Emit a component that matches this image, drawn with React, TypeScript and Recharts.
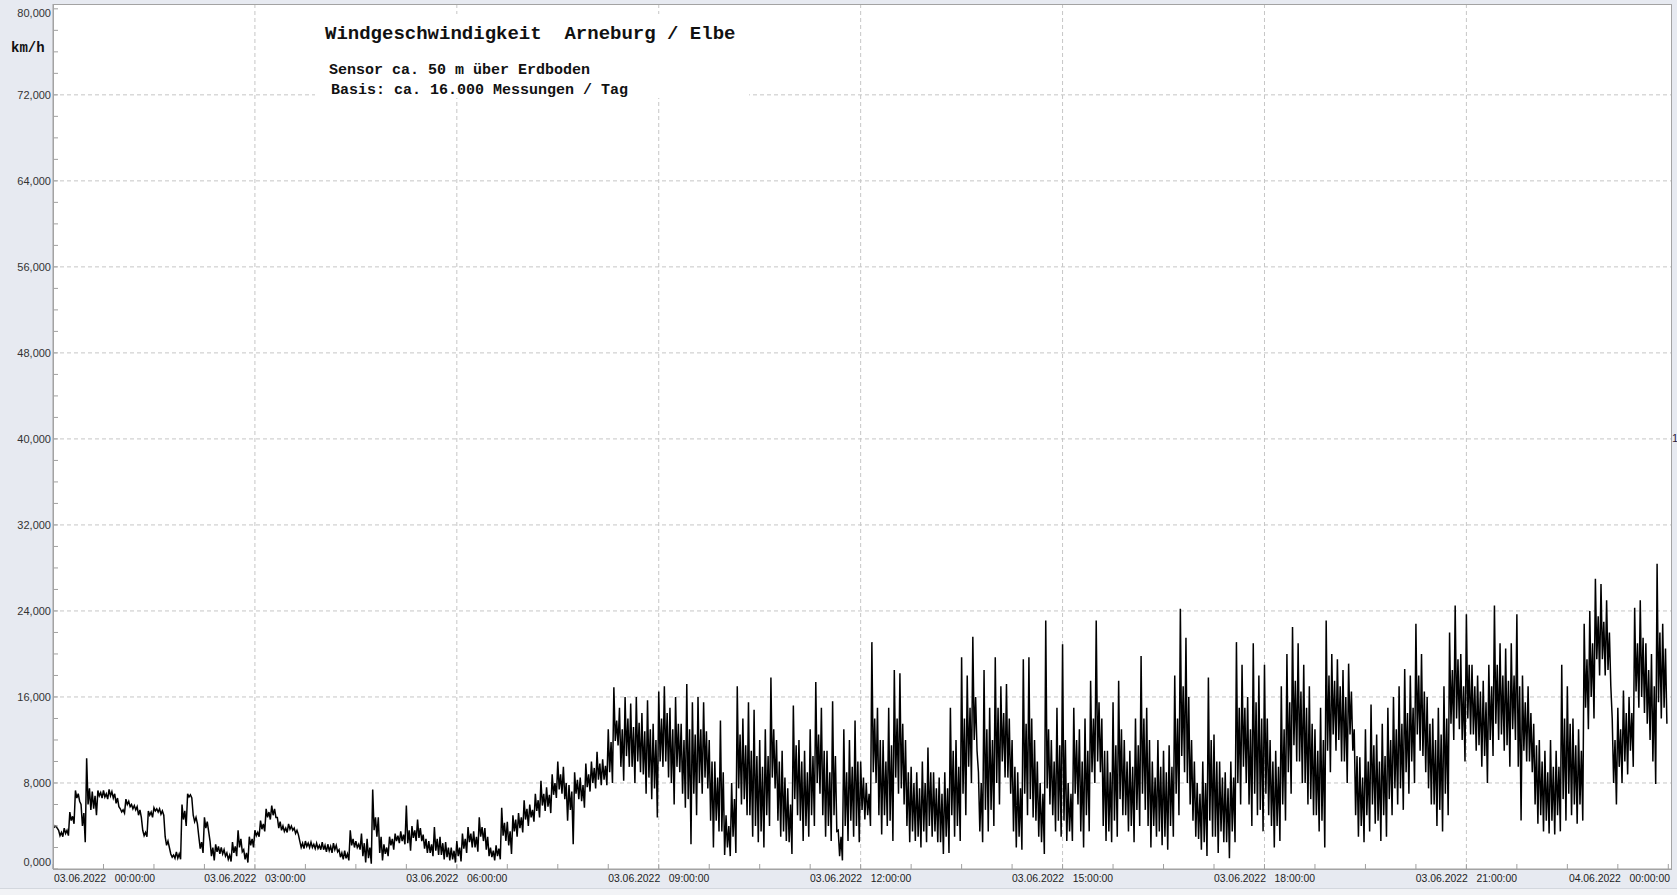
import React from 'react'
import { LineChart, Line, XAxis, YAxis, CartesianGrid } from 'recharts'

// wind speed in km/h, one row per hour, one value per 5-minute window
// peaks = highest reading, troughs = lowest reading,
// coreTop / coreBottom = edges of the dense bulk of readings
const peaks: number[] = [
  4.2, 3.6, 3.8, 5.3, 7.3, 6.0, 10.3, 7.2, 7.3, 7.3, 7.4, 7.0,
  5.6, 6.5, 6.0, 5.8, 3.6, 5.4, 5.7, 5.6, 3.0, 1.4, 1.6, 6.0,
  7.0, 5.0, 3.0, 4.8, 2.6, 2.3, 2.0, 1.5, 2.5, 3.6, 1.8, 3.0,
  3.6, 4.5, 5.6, 5.9, 4.8, 4.0, 4.2, 3.8, 2.6, 2.6, 2.5, 2.4,
  2.5, 2.3, 2.4, 1.8, 1.7, 3.6, 2.6, 3.3, 2.8, 7.4, 4.8, 2.3,
  3.0, 3.3, 3.5, 5.9, 4.0, 4.6, 3.2, 2.6, 3.9, 3.0, 2.5, 2.0,
  2.6, 3.3, 3.9, 3.5, 4.8, 3.8, 2.0, 2.2, 5.7, 4.4, 5.0, 5.2,
  6.4, 6.0, 7.0, 8.2, 7.6, 8.8, 10.0, 9.5, 7.8, 9.0, 8.5, 9.8,
  10.0, 10.9, 10.2, 13.0, 16.9, 15.0, 16.0, 15.4, 16.0, 14.5, 15.7, 13.5,
  16.5, 17.0, 15.0, 16.0, 13.5, 17.2, 15.5, 16.0, 15.5, 12.0, 10.0, 13.8,
  5.0, 8.0, 17.0, 14.0, 15.5, 14.8, 12.0, 13.0, 17.8, 12.0, 11.0, 7.5,
  15.2, 12.0, 11.0, 13.0, 17.4, 15.0, 11.0, 15.6, 3.6, 13.0, 12.0, 13.8,
  10.0, 8.0, 21.1, 15.0, 12.0, 15.0, 18.5, 18.2, 12.0, 9.5, 9.0, 10.0,
  11.3, 9.0, 8.5, 9.0, 15.0, 12.0, 19.7, 18.0, 21.6, 9.0, 18.5, 15.0,
  19.7, 17.0, 17.2, 12.0, 9.0, 19.5, 19.7, 12.0, 8.0, 23.1, 12.0, 15.0,
  20.9, 8.0, 15.0, 13.0, 14.0, 17.5, 23.1, 14.0, 11.0, 15.5, 17.5, 12.0,
  11.0, 14.0, 19.8, 15.0, 10.0, 12.0, 11.0, 11.5, 18.0, 24.2, 21.5, 12.0,
  8.0, 10.0, 17.8, 12.5, 10.0, 9.0, 10.0, 21.1, 19.0, 16.0, 21.0, 18.0,
  19.0, 12.0, 11.0, 17.0, 20.0, 22.5, 21.0, 19.0, 17.0, 13.0, 15.0, 23.1,
  20.0, 19.5, 18.5, 19.1, 13.0, 10.4, 13.0, 15.3, 12.5, 13.5, 15.0, 16.0,
  17.0, 18.6, 18.0, 22.8, 20.0, 16.0, 14.0, 15.0, 17.0, 22.0, 24.5, 20.0,
  23.7, 19.0, 18.0, 17.5, 19.0, 24.5, 21.0, 20.5, 21.0, 23.7, 18.0, 17.0,
  13.5, 12.0, 11.0, 12.0, 11.0, 19.0, 17.0, 14.0, 13.0, 22.8, 24.0, 27.0,
  26.5, 25.0, 14.0, 15.0, 16.6, 16.0, 24.3, 25.0, 21.0, 20.0, 28.4, 22.8,
]

const troughs: number[] = [
  3.8, 3.0, 3.1, 4.2, 6.3, 2.5, 5.5, 5.0, 6.6, 6.5, 6.6, 5.8,
  5.2, 5.8, 5.5, 4.8, 3.0, 4.8, 5.3, 5.0, 2.0, 1.0, 0.9, 4.0,
  6.6, 4.2, 1.5, 3.5, 0.8, 1.4, 1.2, 0.7, 1.2, 1.6, 0.6, 2.0,
  3.0, 3.5, 4.6, 4.8, 3.6, 3.4, 3.6, 3.2, 1.9, 2.0, 1.9, 1.8,
  1.6, 1.5, 1.6, 0.9, 0.8, 2.0, 1.8, 0.6, 0.5, 3.0, 0.8, 1.2,
  1.8, 2.4, 2.3, 1.7, 2.6, 2.6, 1.5, 1.2, 1.3, 0.9, 0.8, 0.6,
  0.7, 1.5, 2.0, 1.6, 2.6, 1.2, 0.8, 0.9, 2.6, 1.4, 3.0, 3.4,
  4.0, 4.4, 4.8, 5.4, 5.2, 6.6, 7.0, 4.5, 2.3, 6.5, 5.7, 7.2,
  7.5, 7.8, 7.8, 8.0, 11.5, 8.2, 9.5, 8.0, 9.0, 7.0, 6.5, 4.8,
  9.5, 8.5, 6.0, 9.0, 5.7, 2.3, 5.0, 7.0, 7.5, 2.0, 3.5, 1.3,
  1.2, 1.5, 6.0, 5.0, 3.0, 2.5, 2.0, 4.0, 7.5, 3.0, 2.6, 1.4,
  5.0, 2.6, 3.0, 4.0, 7.0, 3.0, 2.6, 3.5, 0.8, 2.6, 3.0, 2.5,
  4.6, 4.0, 8.0, 3.2, 4.0, 2.6, 7.0, 6.0, 2.5, 2.6, 2.0, 2.5,
  3.0, 2.5, 1.4, 1.5, 3.0, 2.6, 5.0, 8.0, 11.0, 2.5, 3.5, 4.0,
  6.0, 8.5, 7.0, 2.0, 1.8, 5.0, 4.8, 3.0, 1.4, 6.0, 3.5, 3.0,
  2.6, 2.6, 6.0, 2.0, 3.5, 8.0, 9.0, 2.6, 2.5, 3.0, 5.0, 3.5,
  2.5, 4.0, 5.5, 2.0, 3.0, 2.2, 1.8, 3.0, 5.0, 9.0, 6.0, 3.0,
  1.8, 1.2, 3.0, 1.5, 2.5, 1.0, 2.5, 6.0, 8.0, 4.0, 5.0, 3.5,
  5.0, 2.0, 2.6, 4.5, 7.0, 10.0, 8.0, 6.0, 5.0, 3.5, 2.0, 9.0,
  11.0, 10.0, 8.0, 11.0, 3.0, 2.5, 3.5, 4.2, 2.6, 3.0, 5.0, 6.0,
  5.5, 7.0, 8.0, 11.0, 9.0, 6.0, 4.0, 3.5, 5.0, 12.0, 13.0, 10.0,
  12.5, 11.0, 9.5, 8.0, 10.5, 12.0, 11.0, 9.5, 12.0, 4.5, 10.0, 9.0,
  4.2, 3.5, 3.3, 3.2, 3.5, 4.5, 5.0, 4.2, 4.5, 13.0, 14.0, 18.0,
  18.0, 17.0, 6.0, 8.0, 8.8, 9.5, 15.0, 14.5, 12.0, 7.9, 14.0, 13.5,
]

const coreTop: number[] = [
  4.0, 3.4, 3.6, 4.9, 7.0, 5.2, 7.5, 6.8, 7.1, 7.0, 7.2, 6.6,
  5.5, 6.3, 5.9, 5.5, 3.4, 5.3, 5.6, 5.4, 2.6, 1.3, 1.4, 5.4,
  6.9, 4.8, 2.5, 4.4, 2.0, 2.1, 1.8, 1.3, 2.1, 2.8, 1.5, 2.8,
  3.4, 4.2, 5.3, 5.6, 4.4, 3.8, 4.0, 3.6, 2.4, 2.4, 2.3, 2.2,
  2.2, 2.1, 2.2, 1.5, 1.4, 2.8, 2.3, 2.4, 2.0, 4.8, 3.0, 2.0,
  2.8, 3.1, 3.2, 3.6, 3.6, 3.8, 2.8, 2.3, 2.8, 2.4, 2.0, 1.7,
  2.0, 2.8, 3.3, 3.0, 3.9, 3.0, 1.7, 1.9, 4.3, 3.5, 4.6, 4.8,
  5.6, 5.5, 6.4, 7.0, 6.9, 8.0, 8.8, 8.0, 7.2, 8.3, 7.8, 8.8,
  9.4, 9.8, 9.6, 11.8, 13.8, 13.0, 14.0, 13.2, 13.6, 12.8, 13.0, 12.0,
  14.0, 14.5, 13.0, 13.5, 12.0, 13.0, 12.5, 13.0, 12.8, 10.0, 8.5, 9.0,
  4.0, 6.5, 12.5, 11.5, 11.0, 10.5, 9.5, 10.5, 13.0, 10.0, 8.5, 6.0,
  11.5, 10.0, 9.0, 10.5, 12.5, 11.0, 9.0, 10.5, 3.0, 9.0, 9.5, 10.0,
  8.5, 7.0, 14.0, 12.0, 10.0, 11.5, 14.0, 13.5, 9.0, 8.0, 7.5, 8.0,
  9.0, 7.5, 7.0, 7.5, 11.0, 9.5, 14.0, 15.0, 16.0, 8.0, 13.0, 12.0,
  15.0, 14.5, 14.0, 9.5, 7.5, 13.5, 14.0, 10.0, 7.0, 13.0, 10.0, 11.5,
  12.0, 7.0, 12.0, 10.0, 11.0, 14.0, 15.5, 11.0, 9.0, 11.5, 13.0, 10.0,
  9.5, 11.5, 14.0, 12.0, 8.5, 9.5, 9.0, 9.5, 14.0, 17.0, 16.0, 10.0,
  7.0, 8.0, 12.0, 10.0, 8.5, 7.5, 8.5, 15.0, 15.0, 13.0, 15.5, 14.0,
  14.0, 10.0, 9.5, 13.0, 15.5, 17.5, 16.5, 15.0, 13.5, 11.0, 12.0, 18.0,
  17.5, 17.0, 16.0, 16.5, 10.5, 8.5, 10.0, 11.5, 10.0, 10.5, 12.0, 13.0,
  13.5, 14.5, 15.0, 18.0, 16.5, 13.5, 12.0, 12.5, 14.0, 18.5, 19.5, 17.0,
  19.0, 17.0, 16.5, 15.5, 17.0, 19.0, 18.0, 17.5, 18.0, 17.0, 15.5, 14.5,
  11.5, 10.0, 9.0, 9.5, 9.5, 14.0, 13.5, 11.5, 11.0, 19.5, 21.0, 23.5,
  23.0, 22.0, 12.0, 13.0, 14.5, 14.5, 21.0, 21.5, 18.5, 17.0, 22.0, 20.5,
]

const coreBottom: number[] = [
  3.9, 3.1, 3.3, 4.5, 6.6, 4.0, 6.0, 5.6, 6.8, 6.7, 6.8, 6.1,
  5.3, 6.0, 5.6, 5.0, 3.1, 5.0, 5.4, 5.1, 2.2, 1.1, 1.0, 4.6,
  6.7, 4.4, 1.9, 3.8, 1.2, 1.6, 1.4, 0.9, 1.5, 2.0, 0.9, 2.2,
  3.1, 3.7, 4.8, 5.0, 3.8, 3.5, 3.7, 3.3, 2.0, 2.1, 2.0, 1.9,
  1.8, 1.7, 1.8, 1.1, 1.0, 2.2, 2.0, 1.2, 1.0, 3.6, 1.5, 1.4,
  2.2, 2.6, 2.6, 2.4, 2.9, 2.9, 1.9, 1.5, 1.7, 1.3, 1.1, 0.9,
  1.2, 1.9, 2.5, 2.0, 3.0, 1.8, 1.1, 1.2, 3.1, 2.2, 3.5, 3.8,
  4.6, 4.8, 5.4, 5.9, 5.8, 6.9, 7.4, 6.5, 5.5, 7.0, 6.3, 7.6,
  8.0, 8.3, 8.3, 9.0, 11.9, 9.5, 10.5, 9.5, 10.0, 8.8, 8.5, 7.5,
  10.0, 10.0, 8.0, 9.5, 7.0, 6.5, 7.0, 8.0, 8.5, 4.5, 4.5, 3.5,
  2.0, 3.0, 7.5, 6.5, 5.0, 4.0, 3.5, 5.0, 8.5, 4.5, 3.5, 2.5,
  6.5, 4.5, 4.0, 5.0, 8.0, 5.0, 4.0, 5.0, 1.2, 4.0, 4.5, 4.0,
  5.5, 5.0, 9.0, 5.0, 5.0, 4.5, 8.5, 7.5, 4.0, 3.5, 3.0, 3.5,
  4.0, 3.5, 2.5, 3.0, 5.0, 4.0, 7.0, 9.5, 12.0, 3.5, 5.5, 5.5,
  8.0, 10.0, 8.5, 3.5, 3.0, 7.0, 6.5, 4.5, 2.5, 7.5, 5.0, 4.5,
  4.5, 3.5, 7.0, 3.5, 5.0, 9.0, 10.0, 4.0, 3.5, 4.5, 6.5, 5.0,
  4.0, 5.5, 7.0, 4.0, 4.0, 3.5, 3.0, 4.0, 7.0, 10.5, 8.0, 4.5,
  2.8, 2.5, 4.5, 3.0, 3.5, 2.5, 3.5, 8.0, 9.5, 6.0, 7.0, 5.5,
  7.0, 4.0, 4.0, 6.0, 9.0, 11.5, 10.0, 8.0, 6.5, 5.0, 4.5, 11.0,
  12.5, 12.0, 10.0, 12.5, 5.0, 4.0, 5.0, 6.0, 4.5, 5.0, 6.5, 7.5,
  7.5, 9.0, 10.0, 12.5, 10.5, 7.5, 6.0, 5.5, 7.0, 13.5, 14.0, 12.0,
  14.0, 12.5, 11.5, 10.5, 12.0, 13.5, 12.5, 11.5, 13.0, 9.5, 11.0, 10.0,
  6.0, 5.0, 4.5, 4.5, 5.0, 6.5, 7.0, 6.0, 6.0, 15.0, 16.0, 19.5,
  19.5, 18.5, 8.0, 9.5, 10.0, 11.0, 16.5, 16.0, 13.5, 10.0, 15.5, 15.0,
]

const yLabelValues = [0, 8, 16, 24, 32, 40, 48, 56, 64, 72, 80]
const yGridValues = [8, 16, 24, 32, 40, 48, 56, 64, 72]
const xLabelHours = [0, 3, 6, 9, 12, 15, 18, 21, 24]
const xLabels = [
  '03.06.2022   00:00:00',
  '03.06.2022   03:00:00',
  '03.06.2022   06:00:00',
  '03.06.2022   09:00:00',
  '03.06.2022   12:00:00',
  '03.06.2022   15:00:00',
  '03.06.2022   18:00:00',
  '03.06.2022   21:00:00',
  '04.06.2022   00:00:00',
]
const xGridHours = [3, 6, 9, 12, 15, 18, 21]

// each 5-minute window is drawn as peak -> core bottom -> core top -> trough
const STEP = 1 / 12
const data = peaks.flatMap((p, i) => [
  { t: i * STEP, v: p },
  { t: i * STEP + STEP / 4, v: coreBottom[i] },
  { t: i * STEP + STEP / 2, v: coreTop[i] },
  { t: i * STEP + (3 * STEP) / 4, v: troughs[i] },
])

const yTicks = Array.from({ length: 41 }, (_, i) => i * 2)
const xTicks = Array.from({ length: 33 }, (_, i) => i * 0.75)

const W = 1677
const H = 895
const PLOT_LEFT = 53
const PLOT_RIGHT = 1671
const PLOT_TOP = 4
const PLOT_BOTTOM = 869

const sans = '"Liberation Sans", Arial, sans-serif'
const mono = '"Liberation Mono", "Courier New", monospace'

const fmt = (v: number) => v.toFixed(3).replace('.', ',')

function YTick(props: any) {
  const { y, payload } = props
  const v = payload.value
  let dy = 4
  if (v === 80) dy = 8
  if (v === 0) dy = -3
  return (
    <g>
      <line x1={PLOT_LEFT} x2={PLOT_LEFT + 5} y1={y} y2={y} stroke="#a0a0a0" />
      {yLabelValues.includes(v) && (
        <text x={PLOT_LEFT - 2} y={y + dy} textAnchor="end" fontSize={11} fill="#333" fontFamily={sans}>
          {fmt(v)}
        </text>
      )}
    </g>
  )
}

function XTick(props: any) {
  const { x, payload } = props
  const h = payload.value
  const idx = xLabelHours.indexOf(h)
  let anchor = 'middle'
  let tx = x
  if (h === 0) { anchor = 'start'; tx = PLOT_LEFT + 1 }
  if (h === 24) { anchor = 'end'; tx = PLOT_RIGHT - 1 }
  return (
    <g>
      <line x1={x} x2={x} y1={PLOT_BOTTOM} y2={PLOT_BOTTOM - 5} stroke="#a0a0a0" />
      {idx >= 0 && (
        <text
          x={tx}
          y={PLOT_BOTTOM + 13}
          textAnchor={anchor}
          fontSize={10.4}
          fill="#222"
          fontFamily={sans}
          style={{ whiteSpace: 'pre' }}
        >
          {xLabels[idx]}
        </text>
      )}
    </g>
  )
}

export default function App() {
  return (
    <div style={{ position: 'absolute', left: 0, top: 0, width: W, height: H, background: '#e7eaf1', overflow: 'hidden' }}>
      <LineChart width={W} height={H} data={data} margin={{ top: PLOT_TOP, right: W - PLOT_RIGHT, bottom: 0, left: 0 }}>
        <CartesianGrid
          fill="#fff"
          stroke="#c6c6c6"
          strokeDasharray="4 3"
          horizontalValues={yGridValues}
          verticalValues={xGridHours}
        />
        <XAxis
          dataKey="t"
          type="number"
          domain={[0, 24.04]}
          ticks={xTicks}
          interval={0}
          height={H - PLOT_BOTTOM}
          tickLine={false}
          axisLine={{ stroke: '#a0a0a0' }}
          tick={<XTick />}
          allowDataOverflow
        />
        <YAxis
          type="number"
          domain={[0, 80.45]}
          ticks={yTicks}
          interval={0}
          width={PLOT_LEFT}
          tickLine={false}
          axisLine={{ stroke: '#a0a0a0' }}
          tick={<YTick />}
          allowDataOverflow
        />
        <Line
          type="linear"
          dataKey="v"
          stroke="#000"
          strokeWidth={1.5}
          dot={false}
          isAnimationActive={false}
        />
      </LineChart>

      <div style={{ position: 'absolute', left: PLOT_LEFT, top: PLOT_TOP, width: PLOT_RIGHT - PLOT_LEFT + 1, height: PLOT_BOTTOM - PLOT_TOP + 1, border: '1px solid #a3a3a3', boxSizing: 'border-box', pointerEvents: 'none' }} />
      <div style={{ position: 'absolute', left: 0, top: 888, width: W, height: 7, background: '#f2f3f6', borderTop: '1px solid #d3d7de' }} />

      <div style={{ position: 'absolute', left: 315, top: 14, width: 434, height: 84, background: '#fff' }} />
      <div style={{ position: 'absolute', left: 325, top: 23, fontFamily: mono, fontWeight: 'bold', fontSize: 19, lineHeight: '22px', color: '#111', whiteSpace: 'pre' }}>
        Windgeschwindigkeit  Arneburg / Elbe
      </div>
      <div style={{ position: 'absolute', left: 329, top: 62, fontFamily: mono, fontWeight: 'bold', fontSize: 15, lineHeight: '18px', color: '#111', whiteSpace: 'pre' }}>
        Sensor ca. 50 m über Erdboden
      </div>
      <div style={{ position: 'absolute', left: 331, top: 82, fontFamily: mono, fontWeight: 'bold', fontSize: 15, lineHeight: '18px', color: '#111', whiteSpace: 'pre' }}>
        Basis: ca. 16.000 Messungen / Tag
      </div>

      <div style={{ position: 'absolute', left: 11, top: 40, fontFamily: mono, fontWeight: 'bold', fontSize: 14, lineHeight: '16px', color: '#111' }}>
        km/h
      </div>
      <div style={{ position: 'absolute', left: 1672, top: 431, fontFamily: sans, fontSize: 11, lineHeight: '14px', color: '#2a1a3a' }}>
        1
      </div>
    </div>
  )
}
